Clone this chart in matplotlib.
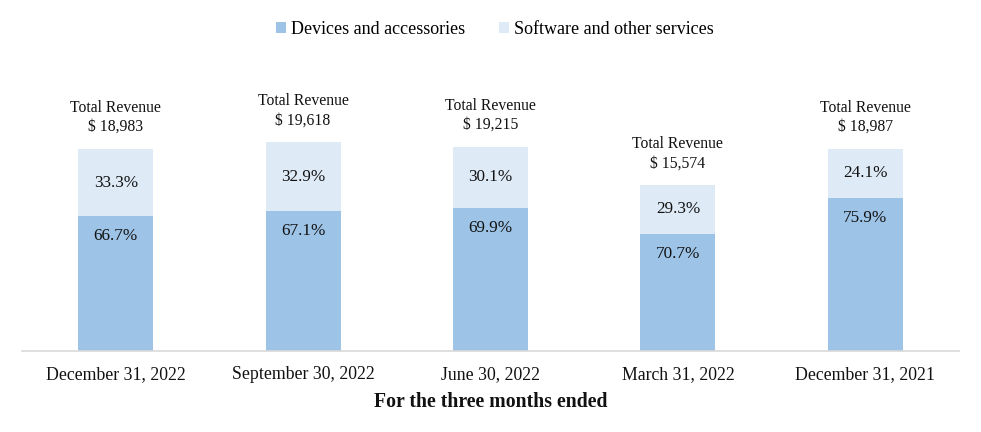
import matplotlib
matplotlib.use("Agg")
import matplotlib.pyplot as plt
from matplotlib.patches import Patch

plt.rcParams['font.family'] = ['Liberation Serif', 'DejaVu Serif']

categories = ["December 31, 2022", "September 30, 2022", "June 30, 2022",
              "March 31, 2022", "December 31, 2021"]
total_revenue = [18983, 19618, 19215, 15574, 18987]
devices_pct = [66.7, 67.1, 69.9, 70.7, 75.9]
software_pct = [33.3, 32.9, 30.1, 29.3, 24.1]
series_names = ["Devices and accessories", "Software and other services"]

c_dev = "#9DC3E6"
c_sw = "#DEEBF7"

fig = plt.figure(figsize=(9.81, 4.32), dpi=100)
ax = fig.add_axes([22/981, (432-350.7)/432, 937/981, 212.5/432])

x = list(range(len(categories)))
dev_h = [t*p/100 for t, p in zip(total_revenue, devices_pct)]
sw_h = [t - d for t, d in zip(total_revenue, dev_h)]

ax.bar(x, dev_h, width=0.4, color=c_dev, label=series_names[0])
ax.bar(x, sw_h, bottom=dev_h, width=0.4, color=c_sw, label=series_names[1])

px = 72/100
for i in x:
    ax.annotate(f"{software_pct[i]:.1f}%", xy=(i, dev_h[i] + sw_h[i]/2),
                ha='center', va='center', fontsize=12.3, color='#111111')
    ax.annotate(f"{devices_pct[i]:.1f}%", xy=(i, dev_h[i]), xytext=(0, -20*px),
                textcoords='offset points', ha='center', va='center',
                fontsize=12.3, color='#111111')
    ax.annotate(f"$ {total_revenue[i]:,}", xy=(i, total_revenue[i]), xytext=(0, 22*px),
                textcoords='offset points', ha='center', va='center',
                fontsize=11.3, color='#111111')
    ax.annotate("Total Revenue", xy=(i, total_revenue[i]), xytext=(0, 41*px),
                textcoords='offset points', ha='center', va='center',
                fontsize=11.3, color='#111111')

ax.set_xlim(-0.5, 4.5)
ax.set_ylim(0, 20000)
ax.set_xticks(x)
ax.set_xticklabels(categories, fontsize=12.8, color='#111111')
ax.tick_params(axis='x', length=0, pad=11)
ax.set_yticks([])
for s in ['top', 'right', 'left']:
    ax.spines[s].set_visible(False)
ax.spines['bottom'].set_color('#D9D9D9')
ax.spines['bottom'].set_linewidth(1.2)
ax.set_xlabel("For the three months ended", fontsize=14.2, fontweight='bold',
              color='#111111', labelpad=6.5)

handles = [Patch(facecolor=c_dev, edgecolor='none'), Patch(facecolor=c_sw, edgecolor='none')]
fig.legend(handles, series_names, loc='center', bbox_to_anchor=(495/981, 1-29/432),
           ncol=2, frameon=False, fontsize=13, handlelength=0.55, handleheight=0.55,
           handletextpad=0.25, columnspacing=1.9)

fig.savefig("out.png", dpi=100)
